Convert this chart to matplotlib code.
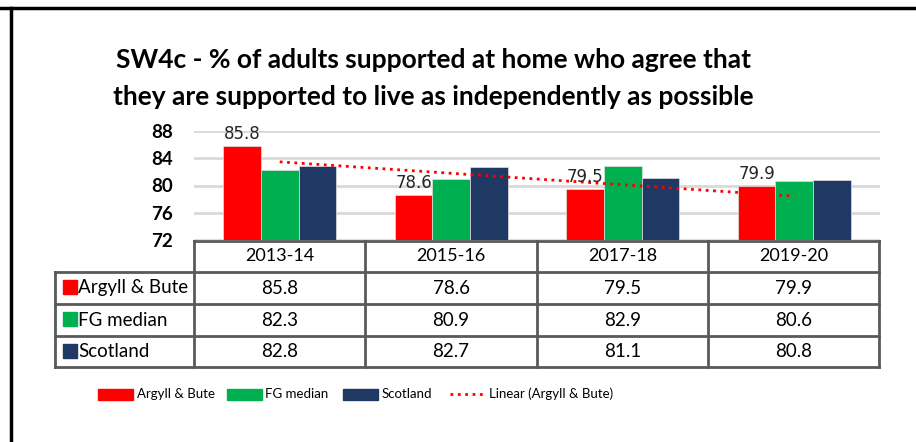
import matplotlib.pyplot as plt
import numpy
from matplotlib.lines import Line2D
from matplotlib.patches import Rectangle

years = ["2013-14", "2015-16", "2017-18", "2019-20"]
series_names = ["Argyll & Bute", "FG median", "Scotland"]
argyll = [85.8, 78.6, 79.5, 79.9]
fg_median = [82.3, 80.9, 82.9, 80.6]
scotland = [82.8, 82.7, 81.1, 80.8]
colors = ["#FF0000", "#00B050", "#1F3864"]

W, H = 916, 442
plt.rcParams["font.family"] = ["Lato", "DejaVu Sans"]

fig = plt.figure(figsize=(W / 100, H / 100), dpi=100)


def fx(px):
    return px / W


def fy(py):
    return 1 - py / H


# frame lines (top and left)
fig.add_artist(Line2D([0, 1], [fy(8), fy(8)], color="black", lw=2.5))
fig.add_artist(Line2D([fx(10.5), fx(10.5)], [fy(8), 0], color="black", lw=2.5))

fig.text(fx(433), fy(60), "SW4c - % of adults supported at home who agree that",
         ha="center", va="center", fontsize=19, fontweight="bold")
fig.text(fx(433), fy(97), "they are supported to live as independently as possible",
         ha="center", va="center", fontsize=19, fontweight="bold")

# plot area
x_left, x_right = 194, 880
y_top, y_bot = 131, 240
ax = fig.add_axes([fx(x_left), fy(y_bot), fx(x_right - x_left), (y_bot - y_top) / H])
ax.set_ylim(72, 88)
ax.set_xlim(-0.5, len(years) - 0.5)
ax.set_yticks([72, 76, 80, 84, 88])
ax.tick_params(axis="y", length=0, pad=15, labelsize=13.5)
for lab in ax.get_yticklabels():
    lab.set_fontweight("bold")
ax.set_xticks([])
for s in ax.spines.values():
    s.set_visible(False)
ax.yaxis.grid(True, color="#D9D9D9", lw=2)
ax.set_axisbelow(True)

x = numpy.arange(len(years))
bw = 0.22
for i, (vals, c) in enumerate(zip([argyll, fg_median, scotland], colors)):
    ax.bar(x + (i - 1) * bw, numpy.array(vals) - 72, width=bw, bottom=72,
           color=c, edgecolor="#E0E0E0", lw=0.5, zorder=2)

for xi, v in zip(x, argyll):
    ax.text(xi - bw, v + 0.4, f"{v}", ha="center", va="bottom",
            fontsize=12, color="#262626", family="DejaVu Sans", zorder=4)

# linear trendline of Argyll & Bute
coef = numpy.polyfit(x, argyll, 1)
ax.plot(x, numpy.polyval(coef, x), color="#FF0000", ls=":", lw=2, zorder=3)

# data table
grid_c = "#595959"
col_edges = [194, 365, 537, 708, 879]
row_edges = [241, 272, 304, 336, 367]
tab_left = 55
lw_t = 2
fig.add_artist(Line2D([fx(194), fx(879)], [fy(241), fy(241)], color=grid_c, lw=lw_t))
for r in row_edges[1:]:
    fig.add_artist(Line2D([fx(tab_left), fx(879)], [fy(r), fy(r)], color=grid_c, lw=lw_t))
for c in col_edges:
    fig.add_artist(Line2D([fx(c), fx(c)], [fy(241), fy(367)], color=grid_c, lw=lw_t))
fig.add_artist(Line2D([fx(tab_left), fx(tab_left)], [fy(272), fy(367)], color=grid_c, lw=lw_t))

for j, yr in enumerate(years):
    cx = (col_edges[j] + col_edges[j + 1]) / 2
    fig.text(fx(cx), fy(256), yr, ha="center", va="center", fontsize=13)

for i, (name, vals, c) in enumerate(zip(series_names, [argyll, fg_median, scotland], colors)):
    cy = (row_edges[i + 1] + row_edges[i + 2]) / 2
    fig.add_artist(Rectangle((fx(63), fy(cy + 6)), fx(14), 14 / H, color=c))
    fig.text(fx(78), fy(cy), name, ha="left", va="center", fontsize=13.5)
    for j, v in enumerate(vals):
        cx = (col_edges[j] + col_edges[j + 1]) / 2
        fig.text(fx(cx), fy(cy), f"{v}", ha="center", va="center", fontsize=13.5)

# legend
ly = 394
items = [(98, 137, series_names[0]), (227, 265, series_names[1]), (343, 382, series_names[2])]
for (x0, tx, name), c in zip(items, colors):
    fig.add_artist(Rectangle((fx(x0), fy(ly + 5.5)), fx(35), 11 / H, color=c))
    fig.text(fx(tx), fy(ly), name, ha="left", va="center", fontsize=9.5)
fig.add_artist(Line2D([fx(450), fx(484)], [fy(ly), fy(ly)], color="#FF0000", ls=":", lw=2))
fig.text(fx(489), fy(ly), "Linear (Argyll & Bute)", ha="left", va="center", fontsize=9.5)

fig.savefig("out.png", dpi=100, facecolor="white")
